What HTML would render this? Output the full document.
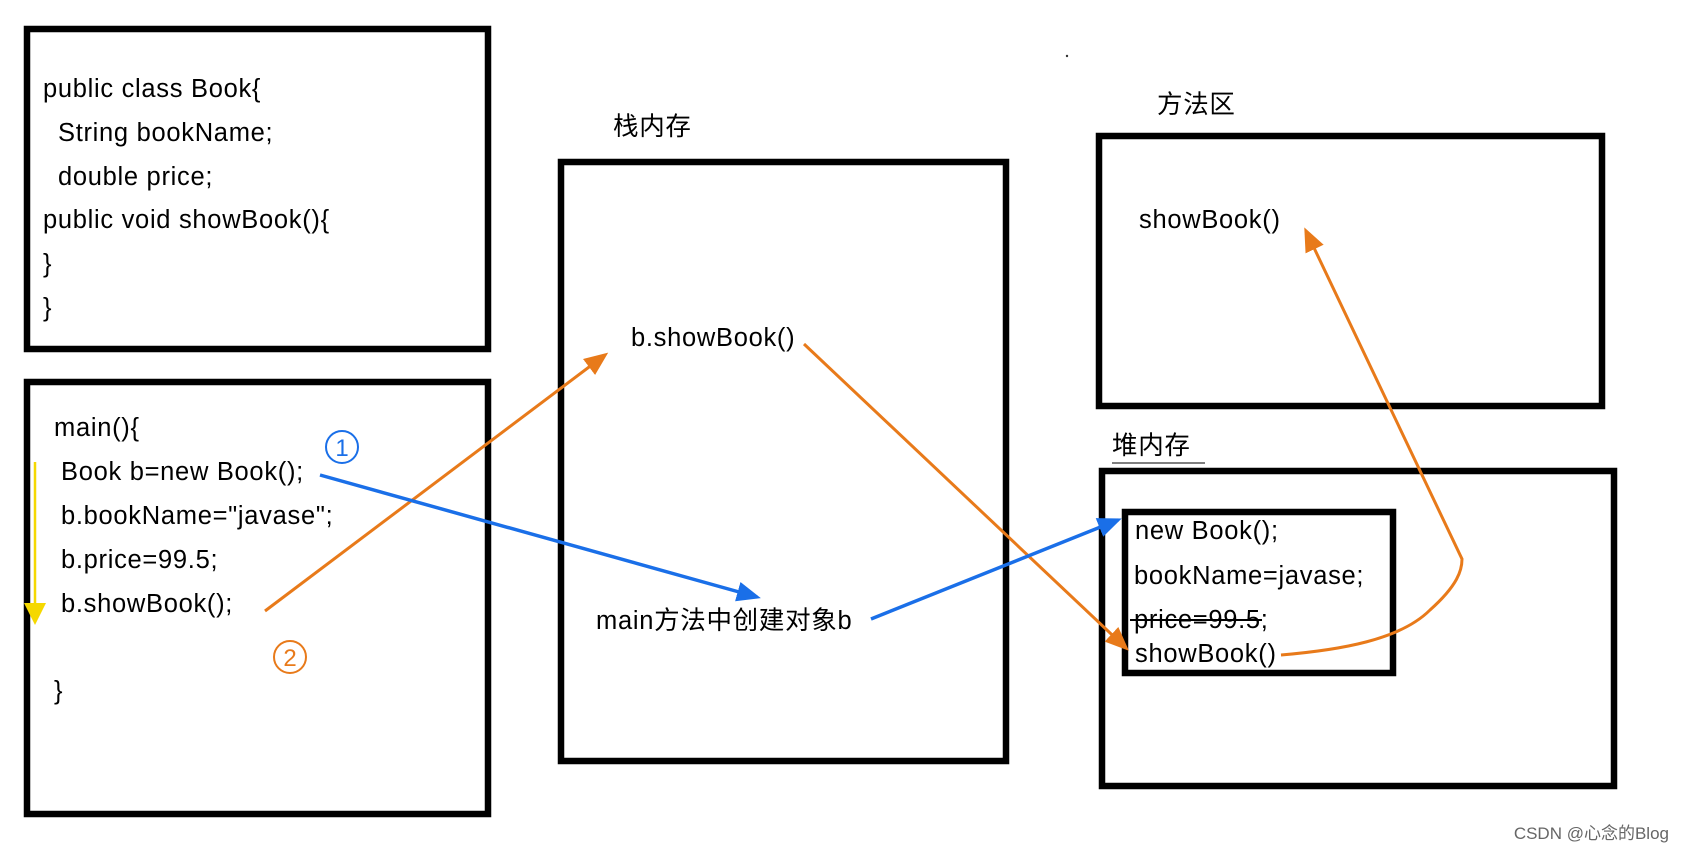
<!DOCTYPE html>
<html><head><meta charset="utf-8"><style>
html,body{margin:0;padding:0;background:#fff;}
svg text{font-family:"Liberation Sans","Noto Sans CJK SC",sans-serif;font-size:25.5px;letter-spacing:0.7px;fill:#000;}
</style></head><body>
<svg width="1685" height="852" viewBox="0 0 1685 852" xmlns="http://www.w3.org/2000/svg">
<defs>
<marker id="ao" markerWidth="24" markerHeight="20" refX="20" refY="10" orient="auto" markerUnits="userSpaceOnUse" viewBox="0 0 24 20"><path d="M0,0 L24,10 L0,20 z" fill="#e87a1a"/></marker>
<marker id="ab" markerWidth="24" markerHeight="20" refX="20" refY="10" orient="auto" markerUnits="userSpaceOnUse" viewBox="0 0 24 20"><path d="M0,0 L24,10 L0,20 z" fill="#1a6fe8"/></marker>
</defs>
<g fill="none" stroke="#000" stroke-width="6.5">
<rect x="27" y="29" width="461" height="320"/>
<rect x="27" y="382" width="461" height="432"/>
<rect x="561" y="162" width="445" height="599"/>
<rect x="1099" y="136" width="503" height="270"/>
<rect x="1102" y="471" width="512" height="315"/>
<rect x="1125" y="512" width="268" height="161"/>
</g>
<line x1="1112" y1="463" x2="1205" y2="463" stroke="#555" stroke-width="1.5"/>
<text x="43" y="97">public class Book{</text>
<text x="58" y="141">String bookName;</text>
<text x="58" y="185">double price;</text>
<text x="43" y="228">public void showBook(){</text>
<text x="43" y="272">}</text>
<text x="43" y="316">}</text>
<text x="54" y="436">main(){</text>
<text x="61" y="480">Book b=new Book();</text>
<text x="61" y="524">b.bookName="javase";</text>
<text x="61" y="568">b.price=99.5;</text>
<text x="61" y="612">b.showBook();</text>
<text x="54" y="699">}</text>
<text x="613" y="135">栈内存</text>
<text x="1157" y="113">方法区</text>
<text x="1112" y="454">堆内存</text>
<text x="631" y="346">b.showBook()</text>
<text x="596" y="629">main方法中创建对象b</text>
<text x="1139" y="228">showBook()</text>
<text x="1135" y="539">new Book();</text>
<text x="1134" y="584">bookName=javase;</text>
<text x="1134" y="628">price=99.5;</text>
<line x1="1130" y1="620" x2="1262" y2="620" stroke="#000" stroke-width="2"/>
<text x="1135" y="662">showBook()</text>
<circle cx="342" cy="447" r="16" fill="none" stroke="#1a6fe8" stroke-width="2"/>
<text x="342" y="456" text-anchor="middle" style="fill:#1a6fe8;font-size:24px;letter-spacing:0">1</text>
<circle cx="290" cy="657" r="16" fill="none" stroke="#e87a1a" stroke-width="2"/>
<text x="290" y="666" text-anchor="middle" style="fill:#e87a1a;font-size:24px;letter-spacing:0">2</text>
<line x1="35" y1="462" x2="35" y2="605" stroke="#f5d800" stroke-width="2.5"/>
<path d="M24,603 L46,603 L35,625 z" fill="#f5d800"/>
<line x1="265" y1="611" x2="605" y2="355" stroke="#e87a1a" stroke-width="3" marker-end="url(#ao)"/>
<line x1="804" y1="344" x2="1126" y2="648" stroke="#e87a1a" stroke-width="3" marker-end="url(#ao)"/>
<line x1="320" y1="475" x2="757" y2="597" stroke="#1a6fe8" stroke-width="3.5" marker-end="url(#ab)"/>
<line x1="871" y1="619" x2="1118" y2="520" stroke="#1a6fe8" stroke-width="3.5" marker-end="url(#ab)"/>
<path d="M1281,655 C1340,650 1400,640 1430,610 C1458,585 1462,570 1462,559 L1306,231" fill="none" stroke="#e87a1a" stroke-width="3" marker-end="url(#ao)"/>
<circle cx="1067" cy="56" r="1.2" fill="#333"/>
<text x="1669" y="839" text-anchor="end" style="font-size:17px;letter-spacing:0;fill:#666">CSDN @心念的Blog</text>
</svg>
</body></html>
